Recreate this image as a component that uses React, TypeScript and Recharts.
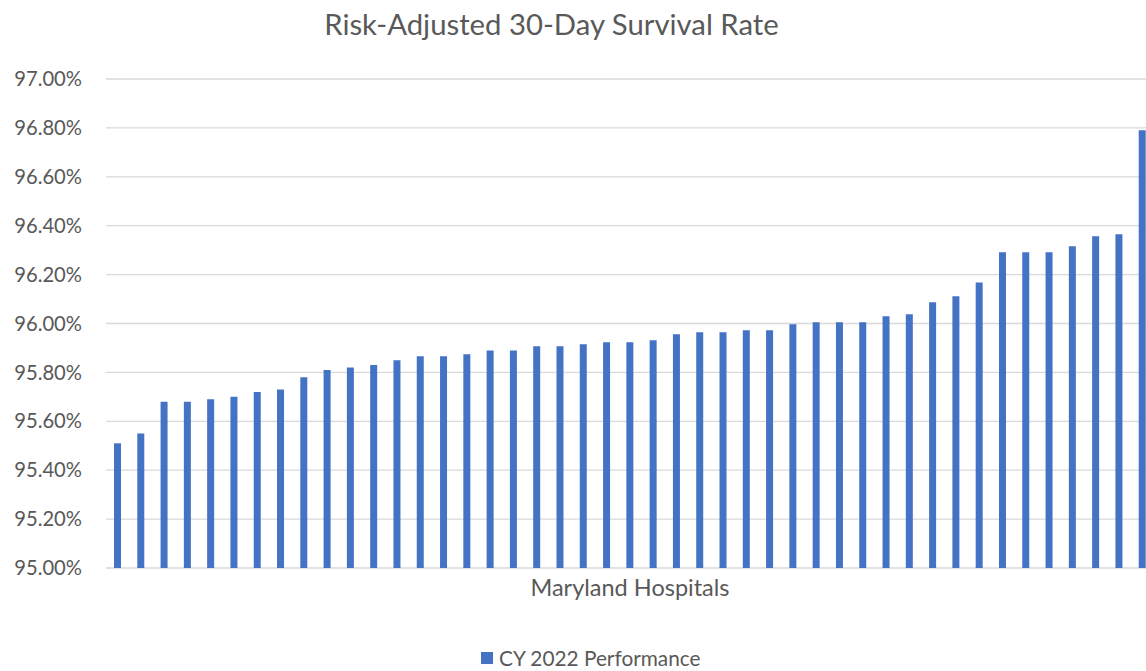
import React from 'react';
import { BarChart, Bar, XAxis, YAxis, CartesianGrid, Legend } from 'recharts';

const title = 'Risk-Adjusted 30-Day Survival Rate';
const xAxisTitle = 'Maryland Hospitals';
const seriesName = 'CY 2022 Performance';

const hospitals: string[] = Array.from({ length: 45 }, (_, i) => `Hospital ${i + 1}`);

const survivalRates: number[] = [
  95.51, 95.55, 95.68, 95.68, 95.69, 95.70, 95.72, 95.73, 95.78, 95.81,
  95.82, 95.83, 95.85, 95.866, 95.866, 95.874, 95.89, 95.89, 95.907, 95.907,
  95.915, 95.923, 95.923, 95.931, 95.956, 95.964, 95.964, 95.972, 95.972, 95.997,
  96.005, 96.005, 96.005, 96.03, 96.038, 96.087, 96.111, 96.168, 96.291, 96.291,
  96.291, 96.316, 96.357, 96.365, 96.79,
];

const yTicks: number[] = [95.0, 95.2, 95.4, 95.6, 95.8, 96.0, 96.2, 96.4, 96.6, 96.8, 97.0];

const data = hospitals.map((name, i) => ({ name, value: survivalRates[i] }));

const FONT = 'Lato, "Liberation Sans", sans-serif';
const TEXT = '#595959';
const BAR = '#4472C4';

const LegendContent = (props: any) => {
  const payload = props.payload || [];
  return (
    <div style={{ display: 'flex', alignItems: 'center', fontFamily: FONT, fontSize: 20.8, color: TEXT, whiteSpace: 'nowrap' }}>
      {payload.map((entry: any, i: number) => (
        <div key={i} style={{ display: 'flex', alignItems: 'center' }}>
          <span style={{ display: 'inline-block', width: 12, height: 12, background: entry.color, marginRight: 6 }} />
          <span>{entry.value}</span>
        </div>
      ))}
    </div>
  );
};

export default function App() {
  return (
    <div style={{ position: 'absolute', left: 0, top: 0, width: 1146, height: 671, overflow: 'hidden', background: '#fff', fontFamily: FONT }}>
      <div style={{ position: 'absolute', left: 0, top: 6, width: 1103, textAlign: 'center', fontSize: 29.3, lineHeight: 1.2, color: TEXT, fontFamily: FONT }}>
        {title}
      </div>
      <BarChart
        width={1154}
        height={671}
        data={data}
        margin={{ top: 79, right: 0, bottom: 63, left: 0 }}
        barCategoryGap={0}
      >
        <CartesianGrid horizontal vertical={false} stroke="#d9d9d9" strokeWidth={1.3} />
        <XAxis
          dataKey="name"
          tick={false}
          tickLine={false}
          axisLine={false}
          height={40}
          label={{ value: xAxisTitle, position: 'insideTop', offset: 11, fill: TEXT, fontSize: 23.5, fontFamily: FONT }}
        />
        <YAxis
          domain={[95, 97]}
          ticks={yTicks}
          interval={0}
          width={106}
          axisLine={false}
          tickLine={false}
          tickSize={0}
          tickMargin={24}
          tick={{ fill: TEXT, fontSize: 20.2, fontFamily: FONT }}
          tickFormatter={(v: number) => `${v.toFixed(2)}%`}
          allowDataOverflow
        />
        <Legend
          layout="horizontal"
          verticalAlign="middle"
          align="center"
          content={<LegendContent />}
          wrapperStyle={{ top: 645, left: 481, width: 'auto' }}
        />
        <Bar dataKey="value" name={seriesName} fill={BAR} barSize={7} isAnimationActive={false} />
      </BarChart>
    </div>
  );
}
